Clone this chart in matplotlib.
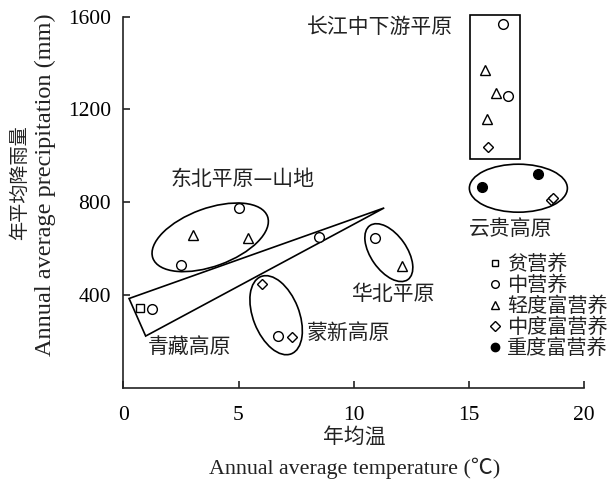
import matplotlib
matplotlib.use("Agg")
import matplotlib.pyplot as plt
from matplotlib.patches import Ellipse, Polygon, Rectangle
from matplotlib.lines import Line2D
import matplotlib.transforms as mtransforms

CJK = ["Noto Sans CJK SC", "DejaVu Sans"]
SERIF = ["Liberation Serif", "Noto Sans CJK SC"]

# Annual average temperature (°C) and precipitation (mm) by trophic class
oligo_x = [0.72]
oligo_y = [341]
meso_x = [1.23, 2.50, 5.02, 8.50, 10.91, 16.48, 16.70, 6.70]
meso_y = [338, 528, 775, 650, 647, 1567, 1258, 223]
light_x = [3.01, 5.42, 12.07, 15.69, 16.16, 15.80]
light_y = [657, 646, 524, 1369, 1271, 1157]
middle_x = [6.00, 7.30, 15.83, 18.55, 18.63]
middle_y = [445, 219, 1038, 808, 817]
heavy_x = [15.56, 18.00]
heavy_y = [866, 920]

class_labels = ["贫营养", "中营养", "轻度富营养", "中度富营养", "重度富营养"]
x_ticks = [0, 5, 10, 15, 20]
y_ticks = [400, 800, 1200, 1600]

W, H, DPI = 613, 482, 100
fig = plt.figure(figsize=(W / DPI, H / DPI), dpi=DPI)
ax = fig.add_axes([123.3 / W, 1 - 387.5 / H, (584.3 - 123.3) / W, (387.5 - 16.7) / H])
ax.set_xlim(0, 20)
ax.set_ylim(0, 1600)

for s in ("top", "right"):
    ax.spines[s].set_visible(False)
for s in ("left", "bottom"):
    ax.spines[s].set_linewidth(1.2)
    ax.spines[s].set_color("#222222")

ax.set_xticks(x_ticks)
ax.set_yticks(y_ticks)
ax.tick_params(direction="in", length=5, width=1.2, color="#222222",
               labelsize=15.5, pad=9)
ax.tick_params(axis="x", pad=13)
for lab in ax.get_xticklabels() + ax.get_yticklabels():
    lab.set_family(SERIF)

mk = dict(linestyle="none", markerfacecolor="white", markeredgecolor="black",
          markeredgewidth=1.0, zorder=5)
ax.plot(oligo_x, oligo_y, marker="s", markersize=6.2, **mk)
ax.plot(meso_x, meso_y, marker="o", markersize=7.0, **mk)
ax.plot(light_x, light_y, marker="^", markersize=7.8, **mk)
ax.plot(middle_x, middle_y, marker="D", markersize=5.6, **mk)
ax.plot(heavy_x, heavy_y, marker="o", markersize=7.0, linestyle="none",
        color="black", zorder=5)


def region_ellipse(cx, cy, w_px, h_px, angle):
    """Ellipse centred at a data point, sized in pixels, rotated on screen."""
    tr = fig.dpi_scale_trans + mtransforms.ScaledTranslation(cx, cy, ax.transData)
    e = Ellipse((0, 0), w_px / DPI, h_px / DPI, angle=angle, transform=tr,
                fill=False, edgecolor="black", linewidth=1.2, zorder=3)
    ax.add_patch(e)


region_ellipse(3.77, 648, 122, 58, 20)      # 东北平原—山地
region_ellipse(11.52, 582, 66, 36, -55)     # 华北平原
region_ellipse(6.63, 312, 83, 46, -68.6)    # 蒙新高原
region_ellipse(17.14, 860, 98, 48, 0)       # 云贵高原

ax.add_patch(Polygon([(0.25, 384), (0.97, 222), (11.32, 775)], closed=True,
                     fill=False, edgecolor="black", linewidth=1.2, zorder=3))
ax.add_patch(Rectangle((15.05, 984), 17.22 - 15.05, 1609 - 984, fill=False,
                       edgecolor="black", linewidth=1.2, zorder=3, clip_on=False))

region_kw = dict(family=CJK, fontsize=15, ha="left", va="center", color="#222222")
ax.text(7.95, 1554, "长江中下游平原", **region_kw)
ax.text(2.06, 899, "东北平原—山地", **region_kw)
ax.text(15.0, 682, "云贵高原", **region_kw)
ax.text(9.9, 402, "华北平原", **region_kw)
ax.text(7.95, 236, "蒙新高原", **region_kw)
ax.text(1.08, 173, "青藏高原", **region_kw)

handles = [
    Line2D([], [], marker="s", markersize=5, linestyle="none",
           markerfacecolor="white", markeredgecolor="black"),
    Line2D([], [], marker="o", markersize=5.5, linestyle="none",
           markerfacecolor="white", markeredgecolor="black"),
    Line2D([], [], marker="^", markersize=6, linestyle="none",
           markerfacecolor="white", markeredgecolor="black"),
    Line2D([], [], marker="D", markersize=4.8, linestyle="none",
           markerfacecolor="white", markeredgecolor="black"),
    Line2D([], [], marker="o", markersize=6, linestyle="none", color="black"),
]
leg = ax.legend(handles, class_labels, loc="upper left",
                bbox_to_anchor=(488 / W, 1 - 254 / H), bbox_transform=fig.transFigure,
                frameon=False, prop={"family": CJK, "size": 14.5},
                handlelength=0.7, handletextpad=0.25, labelspacing=0.0,
                borderpad=0, borderaxespad=0)
for t in leg.get_texts():
    t.set_color("#222222")

fig.text(20 / W, 1 - 183 / H, "年平均降雨量", family=CJK, fontsize=13.8,
         rotation=90, ha="center", va="center", color="#222222")
fig.text(45 / W, 1 - 185 / H, "Annual average precipitation (mm)", family=SERIF,
         fontsize=17.5, rotation=90, ha="center", va="center", color="#222222")
fig.text(354.5 / W, 1 - 437 / H, "年均温", family=CJK, fontsize=15,
         ha="center", va="center", color="#222222")
fig.text(354.5 / W, 1 - 468 / H, "Annual average temperature (℃)", family=SERIF,
         fontsize=15.8, ha="center", va="center", color="#222222")

fig.savefig("out.png", dpi=DPI)
